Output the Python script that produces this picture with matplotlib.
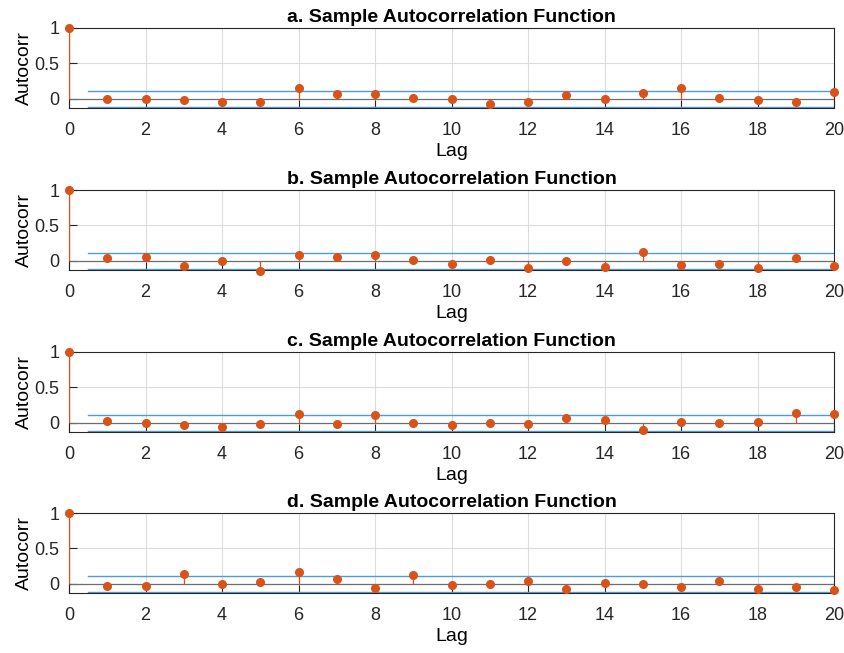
import numpy as np
import matplotlib.pyplot as plt

# Valores de autocorrelación (lags 0..20)
lags = np.arange(0, 21)
acf_a = [1.0, 0.0, 0.0, -0.02, -0.047, -0.047, 0.15, 0.064, 0.064, 0.013, 0.0,
         -0.077, -0.047, 0.055, 0.0, 0.077, 0.15, 0.013, -0.01, -0.047, 0.094]
acf_b = [1.0, 0.038, 0.048, -0.067, 0.0, -0.139, 0.081, 0.057, 0.081, 0.014, -0.043,
         0.01, -0.1, 0.0, -0.086, 0.13, -0.053, -0.043, -0.1, 0.038, -0.067]
acf_c = [1.0, 0.022, 0.004, -0.035, -0.058, -0.022, 0.128, -0.013, 0.106, 0.004, -0.027,
         -0.009, -0.013, 0.066, 0.035, -0.106, 0.018, -0.009, 0.009, 0.142, 0.128]
acf_d = [1.0, -0.035, -0.035, 0.142, 0.0, 0.027, 0.164, 0.066, -0.058, 0.12, -0.022,
         -0.009, 0.044, -0.08, 0.013, -0.009, -0.049, 0.035, -0.071, -0.049, -0.093]
series = [acf_a, acf_b, acf_c, acf_d]
titles = ['a. Sample Autocorrelation Function',
          'b. Sample Autocorrelation Function',
          'c. Sample Autocorrelation Function',
          'd. Sample Autocorrelation Function']
bound = 0.115

plt.rcParams['font.family'] = ['Liberation Sans', 'DejaVu Sans']

W, H = 844, 653
fig = plt.figure(figsize=(W / 100, H / 100), dpi=100)

orange = '#D95319'
blue = '#4F9DD6'
left, right = 69, 834
tops = [28, 190, 352, 513]
ax_h = 80

for i, (vals, title) in enumerate(zip(series, titles)):
    top = tops[i]
    ax = fig.add_axes([left / W, 1 - (top + ax_h) / H, (right - left) / W, ax_h / H])
    ax.set_xlim(0, 20)
    ax.set_ylim(-0.13, 1.0)

    # grid
    ax.grid(True, color='#DCDCDC', linewidth=0.8)
    ax.set_axisbelow(True)

    # línea base del stem
    ax.axhline(0, color='#6E6E6E', linewidth=0.9, zorder=2)

    # stems y marcadores
    ax.vlines(lags, 0, vals, color=orange, linewidth=0.9, zorder=3)
    ax.plot(lags, vals, 'o', color=orange, markersize=5.5, zorder=4, clip_on=False)

    # límites de confianza
    ax.plot([0.5, 20], [bound, bound], color=blue, linewidth=1.0, zorder=2.5)
    ax.plot([0.5, 20], [-bound, -bound], color=blue, linewidth=1.0, zorder=2.5)

    ax.set_xticks(range(0, 21, 2))
    ax.set_yticks([0, 0.5, 1])
    ax.set_yticklabels(['0', '0.5', '1'])
    ax.tick_params(axis='x', direction='in', length=6, width=0.8, labelsize=13,
                   colors='#262626', pad=10)
    ax.tick_params(axis='y', direction='in', length=6, width=0.8, labelsize=13,
                   colors='#262626', pad=7)
    for sp in ax.spines.values():
        sp.set_color('#262626')
        sp.set_linewidth(0.8)

    ax.set_title(title, fontsize=14, fontweight='bold', pad=4)
    ax.set_xlabel('Lag', fontsize=14, labelpad=3)
    ax.set_ylabel('Autocorr', fontsize=14, labelpad=1)

fig.savefig('out.png', dpi=100, facecolor='white')
